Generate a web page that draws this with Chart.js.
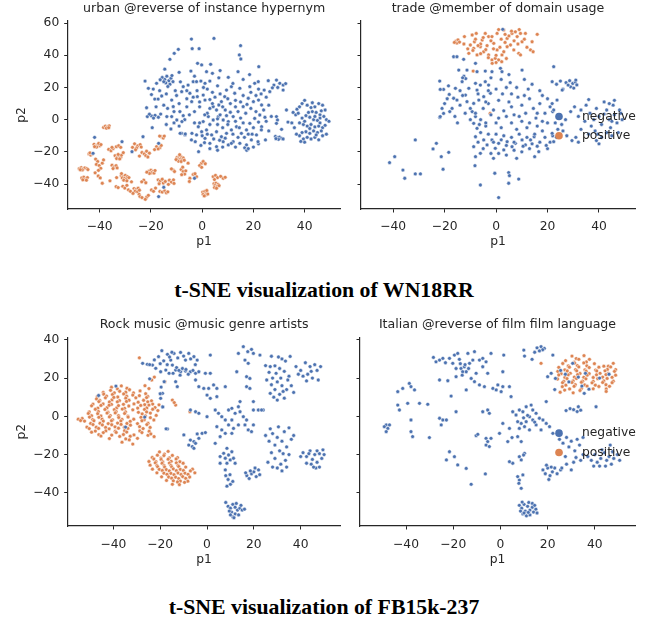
<!DOCTYPE html>
<html>
<head>
<meta charset="utf-8">
<script src="https://cdn.jsdelivr.net/npm/chart.js@4.4.1/dist/chart.umd.min.js"></script>
<style>
  body { margin: 0; background: #fff; }
  #fig { position: relative; width: 659px; height: 621px; overflow: hidden; background: #fff; }
  #fig canvas { position: absolute; }
  .suptitle { position: absolute; left: 0; width: 648px; text-align: center; line-height: 26px;
              font: bold 21.8px "Liberation Serif", "Times New Roman", serif; color: #000; }
</style>
</head>
<body>
<div id="fig">
  <canvas id="c1" width="345" height="250" style="left:0;top:0"></canvas>
  <canvas id="c2" width="314" height="250" style="left:345px;top:0"></canvas>
  <div class="suptitle" style="top:278px">t-SNE visualization of WN18RR</div>
  <canvas id="c3" width="345" height="260" style="left:0;top:310px"></canvas>
  <canvas id="c4" width="314" height="260" style="left:345px;top:310px"></canvas>
  <div class="suptitle" style="top:595px">t-SNE visualization of FB15k-237</div>
</div>
<script>
// labels
const seriesLabels = ['negative', 'positive'];
const panelTitles = [
  'urban @reverse of instance hypernym',
  'trade @member of domain usage',
  'Rock music @music genre artists',
  'Italian @reverse of film film language'
];
const xTicks = [-40, -20, 0, 20, 40];
const wnYTicks = [-40, -20, 0, 20, 40, 60];
const fbYTicks = [-40, -20, 0, 20, 40];

// WN18RR: urban @reverse of instance hypernym
const wnUrbanNeg = [
  [-4.2,50.1],[4.6,50.5],[15,46],[-3.9,44.1],[-1.2,44.1],[-9.3,43.7],[-10.9,41.2],[14.5,40.2],[15.1,37.7],[-12.6,37.5],
  [-14.6,31.4],[22.1,32.9],[-1.8,35],[-0.2,34],[3.3,34.4],[4,28.8],[1.7,29.8],[-4.4,30.2],[-9,29.4],[14,29.8],[10.2,26.3],
  [-15.6,26.2],[-14.6,25],[-13.8,27],[-13,24.2],[-12.2,25.8],[-11.4,23.6],[-14.2,22.8],[-12.6,22],[-15,23.6],[-11.8,27.4],
  [-13.4,20.6],[-16.4,24.8],[-22.3,24],[-21,19.5],[-17.8,22.6],[-19.1,19],[-18.5,12.8],[-17.2,12.8],[-15.8,14.7],[-21.7,7.4],
  [-16.6,18],[-19.8,15.6],[-21.4,1.9],[-19.8,2.3],[-18.4,2.7],[-17.1,1.5],[-16.2,3.5],[-20.6,3.4],[-19,1],[-19.5,-5],
  [-11.9,12.2],[-11.3,8.1],[-11.9,1.9],[-8.7,5],[-7.4,2.5],[-6.8,0],[-8,-8.5],[-6.7,-9.5],[-12.2,-5.8],[-13.8,1.9],
  [-9.9,-0.2],[-7.9,-1.2],[-4,-8.5],[-2.7,-13.7],[-1.4,-19.9],[0.9,-14.3],[-8.6,-8.5],[-6.6,-8.9],
  [-7.4,20.5],[-5.5,21.5],[-3.5,23.6],[-2.2,23.6],[-0.5,24],[1.1,22.6],[-8,17.4],[-4.8,16.4],[-4.1,11.2],[-1.9,14.3],
  [0.4,15.3],[1.1,12.2],[3,7],[4.3,8.1],[5.6,6],[6.5,9.1],[7.5,11.2],[8.8,14.3],[9.5,18.4],[11.4,20.5],[12.7,16.4],
  [14.7,19.5],[18.6,20.5],[20.5,22.6],[21.9,23.6],[24.2,18.4],[26.4,17.4],[25.8,24.2],[29,24.6],[30.3,22.6],[31.6,21.5],
  [31.6,18.4],[28,21.5],[29.5,20],[27.4,19.8],[32.6,22.4],[23,16],
  [18,13.3],[20,11.2],[22,12.2],[23.2,9.1],[16,8.1],[14,5],[12.1,1.9],[10.2,-1.2],[8.2,-0.2],[6.3,1.9],[4.3,-0.2],
  [2.4,1.9],[0.4,-1.2],[-1.5,-4.4],[-0.2,-7.5],[1.7,-6.4],[3.7,-9.5],[5.6,-7.5],[7.5,-10.6],[9.5,-8.5],[11.4,-6.4],
  [13.4,-4.4],[15.3,-8.5],[17.3,-6.4],[18.6,-2.3],[20.5,0.8],[22.5,2.9],[23.2,-4.4],[21.2,-9.5],[19.2,-12.6],[17.3,-15.7],
  [14.7,-14.7],[12.1,-13.7],[10.2,-15.7],[8.2,-13.7],[5.6,-16.8],[3,-14.7],[1.1,-11.6],[-2.2,-9.5],[-4.2,-12.6],[24.7,-12.6],
  [-3,5],[-1,8],[2,4],[5,14],[7,3],[9,6],[11,10],[13,12],[15,1],[17,4],[19,7],[21,5],[6,-3],[8,-5],[10,-3],[12,-9],
  [14,-11],[16,-2],[18,-9],[20,-5],[3,-3],[0,-10],[-3,-2],[-5,3],[-6,8],[-9,10],[-10,15],[-6,13],[-2,18],[2,19],[4,17],
  [7,16],[10,13],[13,8],[16,15],[19,17],[22,19],[25,14],[24,6],[26,9],[25,-1],[27,2],[26,-7],[22,-15],[20,-17],
  [16.6,-17.5],[17.4,-19],[18,-18],[11.4,-14.7],[21.8,-13.7],[23.1,-6.4],[6,-19],[3,-18],[8,-17],[13,-17],[-0.5,-16],
  [4.5,-12],[6.8,-12.8],[9,-11.5],[2,-9],[-1,-2],[1,3],[4,10],[6,0.5],[9.5,2.5],[11,4.6],[13,-1],[14.5,-5],[16.5,-11],
  [19.5,-9],[22,-1.5],[24.5,1.5],[21,15],[17.5,9.5],[15,11],[8,8],[3,12.5],[-1,11],[-3.5,14],[-6,18],[0.5,20],[3,24],
  [6,21],[-11,5],[-13.5,7],[-15,9],[-9,-4],[-11,-2],[-14,-3],[-10.5,18],[-8.5,23.5],[-3,27],[6.5,26],[12,22.5],[16,25],
  [18.5,28],[7,30.5],[-18,8],[-14,16],
  [29,1.9],[29.4,-0.2],[29,-2.3],[32.9,6],[33.5,-1.5],[31,-6],
  [28.6,-10.4],[29.4,-11.2],[30.2,-10.8],[31,-11.6],[29.8,-12.2],[31.6,-12],[28.8,-11.8],
  [36.5,3],[37,6.5],[38,8],[39,10],[40,12],[41,9],[42.5,7.5],[44,8],[45.5,10],[47,9],[43,5],[44.5,4.5],[46,3],[47.5,2],
  [48.5,0],[49.5,-1],[46,1],[45,-0.5],[43.5,0],[42,1.5],[40.5,2.5],[39,1],[38,-2],[39.5,-3],[41,-4],[42.5,-3],[44,-4.5],
  [45.5,-4],[47,-5],[48,-3.5],[46.5,-7],[45,-8],[43.5,-7],[42,-8.5],[40.5,-7.5],[39,-8],[38,-10],[39.5,-12],[41,-11],
  [42.5,-12],[44,-11],[45.5,-12.5],[47,-10],[48.5,-9],[40,-14],[38.5,-13.5],[36,-5],[35,-2],[37.5,4],[41.5,4.5],[44,2],
  [46.5,5.5],[48,6],[43,10.5],[40,-1],[42,-5.5],[44.5,-9.5],[46,-2],[36.8,-9],[35.5,4.5],
  [-42,-11],[-42.6,-20.9],[-31.3,-13.7],[-27.4,-19.9],[-23.1,-10.6],[-17,-14.7],[-3,-36.4],[-17,-47.8],[-15,-42]
];
const wnUrbanPos = [
  [-38.5,-4.8],[-37.8,-4],[-37,-4.5],[-36.3,-3.8],[-37.4,-5.3],[-36.5,-5],
  [-42.2,-15.3],[-41.5,-16.4],[-40.7,-15.6],[-40,-16.2],[-41.2,-17],[-40.4,-14.8],[-39.5,-15.5],[-42,-16.8],
  [-44.2,-21.3],[-43.5,-22],[-42.8,-21.2],[-43.8,-20.6],
  [-48,-30.5],[-47.2,-29.8],[-46.5,-30.6],[-45.8,-30],[-45,-30.4],[-46.8,-31.2],[-44.6,-31],[-47.6,-31.1],
  [-47,-36.2],[-46.2,-35.7],[-45.5,-36.8],[-46.6,-37.4],[-44.8,-36],[-45.2,-37.6],
  [-41.6,-24.5],[-40.8,-26],[-41.3,-27.8],[-40.2,-28.5],[-39.6,-30.2],[-40.5,-31.5],[-39,-27],[-38.5,-25],
  [-40.6,-35],[-39.8,-36.2],[-39,-39.5],[-41.8,-33],
  [-36.5,-18.5],[-35.6,-19.3],[-34.8,-18],[-35.2,-17.2],[-33.5,-16.8],[-32.6,-16.2],[-31.8,-17.2],
  [-34,-22.4],[-33.2,-23.3],[-32.5,-22.6],[-31.8,-23.4],[-33.4,-24.2],[-32.2,-24.4],[-31.5,-22],[-32.8,-21.6],[-30.8,-20.5],
  [-35.2,-28.3],[-34.4,-29.4],[-33.6,-28.6],[-34.8,-30.4],[-33.2,-30],
  [-31.6,-34.8],[-30.8,-35.2],[-30,-34.6],[-29.2,-35.4],[-31.2,-36.2],[-30.3,-36.5],[-29.5,-36.8],[-28.6,-36],
  [-30.6,-37.6],[-29.4,-38],[-31.5,-33.5],
  [-33.6,-41.6],[-32.8,-42.2],[-31,-41.4],[-30.2,-42.5],[-29.4,-40.8],[-28.8,-43.6],[-28,-44.5],
  [-26.6,-42.8],[-25.8,-43.4],[-25,-42.6],[-26.2,-44.5],[-25.2,-44.8],[-24.5,-43.8],[-27,-45.8],[-24.6,-46.4],
  [-24.3,-47.8],[-23.5,-48.4],[-21.7,-48.2],[-22.2,-49.5],[-21,-47],
  [-26.4,-15],[-25.2,-16.3],[-24.2,-15.5],[-23.8,-17],[-25.6,-17.6],[-27.2,-17.2],[-26,-18.7],
  [-23.5,-20.4],[-22.6,-21.3],[-21.7,-19.6],[-22,-22.4],[-20.6,-20.8],[-24.5,-22.6],[-21.2,-23.2],
  [-17.8,-16.8],[-16.5,-17.4],[-17.2,-18.2],[-16,-16],[-18.6,-18.6],
  [-15.9,-10.6],[-16.6,-10.2],[-15.2,-11.4],[-14.8,-10.2],
  [-20.8,-32],[-20,-31.4],[-19.2,-32.1],[-19.8,-33],[-18.8,-33.2],[-20.6,-33.4],[-21.6,-32.6],[-18.4,-31.6],
  [-17.2,-37.4],[-16.4,-38.2],[-15.6,-37],[-15.2,-39.4],[-16.8,-39.8],[-14.4,-38.4],
  [-12.8,-37.6],[-12,-38.8],[-11.2,-37.4],[-11,-39.6],[-13.2,-40.2],
  [-16.5,-44.6],[-15.6,-45],[-14.6,-44.2],[-14,-45.4],[-13.4,-44.8],[-19.8,-43.7],[-19,-44.5],[-18.2,-42.5],
  [-11.3,-31.3],[-12,-30.6],[-10.8,-32.2],
  [-9.8,-23.4],[-9,-22.8],[-8.2,-23.2],[-7.4,-23.8],[-9.4,-24.4],[-8.6,-24.8],[-7.8,-25],[-9.2,-25.8],[-8.2,-26],
  [-7,-25.2],[-10.2,-24.8],[-8.8,-21.8],
  [-8.2,-31],[-7.4,-32.2],[-6.8,-33.8],[-8,-34.2],[-6.4,-31.8],[-7.6,-29.5],
  [-5.5,-27],[-4.8,-36.4],[-3.5,-34],[-2.2,-35.4],[-2.8,-33.6],[-5,-38.4],
  [-0.3,-27.1],[0.4,-26],[1.2,-27.4],[-1,-28.5],[-0.2,-29.6],
  [0.2,-45],[1,-44.6],[1.8,-45.2],[0.4,-46.4],[1.4,-46.8],[2.2,-46.2],[0.8,-47.4],[1.8,-44],
  [4.3,-35.4],[5.2,-34.6],[6,-36],[4.8,-37.2],
  [4.6,-39.8],[5.4,-39.4],[6.2,-40.2],[5,-41],[5.8,-41.6],[6.6,-41],[4.8,-42.2],[5.6,-42.6],
  [8.2,-36.4],[7.2,-35.2],[9,-35.8],
  [-22.8,-37.6],[-22,-39.2],[-23.6,-38.6],[-27.6,-38.6],[-36,-38],[-33.4,-36]
];

// WN18RR: trade @member of domain usage
const wnTradeNeg = [
  [-16.5,39.1],[-15.2,39.1],[-12.6,37.5],[-8,35],[-14.5,30.8],[-11.3,30.8],[-7.4,29.8],[-4.2,30.2],[-1.6,29.8],[1.7,31.9],
  [2.3,29.8],[10.1,30.8],[22.4,32.9],[2.6,56.1],
  [-12.5,27],[-11.8,25.5],[-13,26],[-21.9,24],[-20.4,18.8],[-21.7,18.8],[-18.2,15.7],[-16.5,13.3],[-21,7],[-20.4,3.9],
  [-21.9,1.4],[-17.1,7],[-15.2,12.2],[-13.2,23.6],[-15.8,19.5],[-11.9,15.3],[-11.3,11.2],[-10.6,19.5],[-8,22.6],[-7.4,18.4],
  [-6.1,21.5],[-4.2,23.6],[-2.9,21.5],[-2.2,16.4],[-4.8,14.3],[-6.7,12.2],[-8.7,10.1],[-9.3,5],[-8,1.9],[-8.7,-2.3],
  [-7.4,-5.4],[-8,-10.6],[-8.7,-16.8],[-8,-23],[-8.2,-28.6],[-6.1,-20.9],[-6.1,-40.6],[-4.8,-12.6],[-3.5,-15.7],
  [-1.6,-12.6],[-0.3,-17.8],[1,-14.7],[3,-18.8],[4.3,-13.7],[6.2,-16.8],[7.5,-14.7],[10.1,-12.6],[11.4,-15.7],[13.4,-12.6],
  [14.8,-10.6],[16.6,-19.9],
  [-0.5,-33.3],[4.9,-32.9],[5.2,-34.8],[8.8,-36.9],[4.9,-39.5],[1,-48.4],
  [-41.4,-26.7],[-39.4,-23],[-36.2,-31.3],[-35.5,-36.4],[-31.4,-12.6],[-31.4,-33.7],[-29.4,-33.7],[-24.5,-18.2],
  [-23.2,-14.7],[-21.3,-23],[-20.6,-30.8],[-18.4,-20.3],
  [-20,10],[-18,5],[-16,2],[-14,9],[-13,15],[-18.5,21],[-14,18],[-19,13],[-12,4],[-10,0],[-15,-2],[-21.7,1.9],
  [-3,10],[-1,6],[1,12],[2.5,16],[4,20],[5.5,23],[6,8],[7,3],[8.5,14],[10,9],[11.5,4],[12.5,19],[13,13],[14.5,7],[15.5,1],
  [16,-4],[17,10],[18,15],[19,4],[20,-2],[21,8],[18,-7],[15,-9],[12,-5],[10,-1],[8,-6],[6,-2],[4,2],[2,-5],[0,-2],[-2,3],
  [-4,-4],[-5,7],[-6,0],[-3,-9],[0,-9],[3,-10],[6,-11],[9,-9],[12,-11],[14,-15],[17,-14],[19,-11],[20,-18],[13,-18],
  [10,-20],[7,-19],[4,-22],[1,-21],[-2,-21],[-5,-18],[-7,-14],[-6,-8],[-4,-2],[0,19],[-2,26],[2,25],[5,28],[8,20],[11,25],
  [14,22],[17,18],[20,13],[22,5],[23,-2],[22,-10],[24,-6],[21,-14],[3,5.5],[5,11],[9,2],[13,-2],[16,4],[11,15],[7,-14],
  [-1,-14],[-8,4],[-10,7],[-7,16],[-3,18],[1,1],[4,-16],[8,-24],[15,-23],[18,-1],[6,16],[-4,11],[16,-16.5],[19.5,-16],
  [10.5,-16.5],[2,-12.5],[-6.5,-3],[-1,-24],
  [21.8,23.6],[23.5,22],[25,24],[27.2,23],[28.6,24.2],[29.8,22.5],[30.8,23.4],[31.4,21.6],[29,20.4],[30.2,19.6],[26,19],
  [31,24.6],[28,21.5],[25.7,18.4],[21.8,10],[22.4,6],[23.7,12.2],
  [29,5],[30.5,8],[32,2],[33,6],[34.5,-1],[35,9],[36.5,4],[37,-4],[38,0],[39,7],[40,2],[41,-3],[42,11],[43,6],[44,0],
  [44.5,-5],[45.5,9],[46,3],[47,-2],[48,6],[49,0],[43,-8],[41,-11],[39,-13],[40,-15],[45,-10],[47.5,-8],[38.5,-7],[36,-9],
  [33,-6],[31,-11],[29.5,-13],[27.5,-10],[26,-7],[25.5,-3],[27,0],[42,3.5],[45,-1],[39.5,-9],[48.5,4],[44,10],[46,12],
  [36,12.5],[32,-14],[21.8,-8.5],[22.4,-13.7],[23.5,-11]
];
const wnTradePos = [
  [-15.6,48.8],[-14.8,49.6],[-15.2,47.6],[-14.2,48.2],[-16.2,48],
  [-12.3,51.6],[-10,46.4],[-9.3,52.6],[-7.7,53.6],[-8.4,48.4],[-8.7,44.3],[-10.6,41.2],[-7.4,40.2],[-6.1,45.3],[-5.4,49.5],
  [-4.2,53.6],[-2.9,51.6],[-4.8,42.2],[-2.9,40.2],[-1.6,37.1],[-0.3,38.1],[1,37.1],[2.3,40.2],[0.4,43.3],[-0.9,47.4],
  [-1.6,51.6],[0.4,53.6],[3,55.7],[4.3,50.5],[5.6,46.4],[6.2,53.6],[7.5,54.6],[8.2,51.6],[9.5,53.6],[10.1,48.4],[11.4,53.6],
  [8.8,41.2],[9.5,40.2],[14,48.4],[13.4,43.3],[14.4,42.2],[16,53],[4.3,45.3],[6.9,43.3],[3,42.2],
  [-6,47],[-3.5,46],[-1,44],[1.5,45],[3.5,48],[5,52],[7,49],[8.5,47],[2,50],[-2,49],[-5,51],[-7,46],[-9,43],[-6,41],
  [-3,38.5],[0,40],[4,38],[-11,44],[-12.5,47],[-8,50],[6,55],[9,56],[3.5,53],[1,56],[-4,43.5],[11,50],[12,45],[2.2,36],
  [0,35.5],[-1.5,35],[-8.9,30.2],[-2.3,3.9]
];

// FB15k-237: Rock music @music genre artists
const fbRockNeg = [
  [-27.5,27.7],[-25.5,27.2],[-23.3,26.8],[-19.3,34.3],[-20.7,31.2],[-16.9,32.4],[-15.5,29.4],[-14.1,32.9],[-11.3,33.4],
  [-7.8,32.9],[-5.6,31.2],[-4.2,29.4],[-9.2,29.4],[-14.8,26.8],[-13.4,24.2],[-11.3,23.3],[-9.2,23.7],[-7.1,23.3],[-4.9,22.5],
  [-17.6,24.2],[-16.2,22.5],[-19.8,23.3],[-21.9,25.1],[-12.7,15.5],[-13.4,18.1],[-18.3,18.1],[-19,12],[-19.8,9.4],[-19,5],
  [-3.5,23.3],[-0.7,22.5],[1.4,22.5],[1.4,32],[-4.9,19],[-3.5,15.5],[-1.4,14.6],[0.7,14.6],[2.8,16.4],[4.2,14.6],[1.4,9.4],
  [0,11.1],[4.2,10.3],
  [-13,25.5],[-12,24],[-10.5,25],[-9,24.5],[-8,22],[-6,24],[-14.5,22.5],[-11.5,21.5],[-17,27],[-18.5,29],[-16,31],
  [-12.5,30.5],[-10,31.5],[-7,30],[-5,27],[-20,27.5],[-22.5,29.5],[-24.5,27],[-15,33.5],
  [-7.1,3.3],[-4.9,2.4],[-3.5,1.6],[0,-0.2],[-16.9,-6.6],[-9.9,-9.7],[-7.1,-12.4],[-5.6,-13.2],[-3.5,-11.5],[-6.3,-15.8],
  [-4.9,-14.1],[-7.8,-15],[-2.1,-8.9],[-0.7,-8.5],[-4.2,-9.2],[-5.6,-16.7],
  [3.5,3.3],[4.9,1.6],[6.3,-0.2],[7.8,-1.9],[9.2,3.3],[10.6,4.2],[12,1.6],[13.4,5],[14.1,2.4],[15.5,-0.2],[16.9,-1.9],
  [10.6,-1.9],[9.2,-4.5],[11.3,-6.3],[13.4,-4.5],[16.2,-4.5],[17.6,-7.1],[19,-8],[19.8,-4.5],[4.2,-5.4],[6.3,-7.1],
  [7.8,-8.9],[5.6,-10.6],[3.5,-14.1],[10.6,-8.9],[14.1,7.7],[19.8,3.3],[21.9,3.3],[24,3.3],
  [5.6,-21],[7.1,-19.3],[7.8,-21.9],[9.2,-20.2],[9.9,-22.8],[8.5,-16.7],[11.3,-21.9],[12,-24.5],[10.6,-18.5],[8.5,-24.5],
  [5.6,-24.5],
  [8,-31],[9,-33],[10,-35.5],[11,-34],[8.5,-36.5],[9.8,-30.5],[7.8,-28],
  [8,-45],[9,-47],[10,-48],[11,-46],[12,-47.5],[13,-49],[14,-48],[10.5,-50],[12,-51],[11,-52.5],[13.5,-51.5],[15,-49],
  [9.5,-49.5],[12.5,-45.5],[14.5,-46.5],[11.5,-53],[10,-51.5],[16,-48.5],
  [17,-31],[18,-32.5],[19,-30],[20,-29],[21,-31.5],[22,-28],[20.5,-27],[22.5,-30.5],[18.5,-28.5],[16.5,-29.5],
  [15.5,36.4],[17.4,33.8],[19,35],[19.8,32.9],[17.6,27.7],[16.9,20.7],[18.3,19.8],[16.9,15.5],[18.3,14.6],[13.4,32.9],
  [22.6,32],[7.8,15.5],[16.2,29.4],[12.7,23.3],[19.8,7.7],[23.3,3.3],
  [27.5,31.4],[30.5,31],[32,30],[33.5,28.9],[35.5,31.3],[25,26.5],[27,26],[29,26.4],[31,25],[33,23.5],[35,21],[28,20],
  [30,18],[32,16],[34,14],[29,14],[27,12],[31,11.5],[33,9.5],[30,8.5],[27.5,16.5],[25.5,19],[36,16],[37,12.5],[34.5,19],
  [29.5,22.5],[26.5,23],[31.5,20],[28.5,10],[32.5,13],
  [38,26],[40,24],[42,28],[43,22],[44,26],[45,20],[46,27],[47,24],[48.5,26],[41,21],[39,22],[47.5,19],[44.5,23.5],[42.5,18.5],
  [25,-10],[26.5,-13],[28,-9],[29,-15],[30,-11],[31,-18],[32,-13],[33,-8],[34,-16],[35,-20],[33.5,-23],[31.5,-25],[30,-27],
  [32,-28.5],[34,-26.5],[29,-22],[27.5,-19],[26,-24],[28,-26.5],[36,-12],[35,-6],[37,-10],[30.5,-5.5],[32.5,-19.5],[27,-6.5],
  [41,-19],[42.5,-21],[44,-18],[45,-22.5],[46,-20],[47,-24],[48,-19.5],[49,-22],[50,-20],[46.5,-27],[44.5,-25],[42.5,-24.5],
  [48,-26.5],[49.5,-17.5],[43.5,-19.5],[47,-18],[45.5,-26.5],[40,-21],
  [-38.9,15.8],[-46.3,10.9],[-34.8,-5.6],[-26.6,-0.4],[-24.5,19.6],[-18.9,4.9],[-17.5,-6.5],[-20,11.8],[-19.6,15.3]
];
const fbRockPos = [
  [-40.8,15.2],[-38.3,14.4],[-36.6,15.9],[-34.2,14.7],
  [-44.3,12.5],[-41.2,13.6],[-39.6,12.3],[-37.3,13.1],[-34.7,12.6],[-33.1,13.9],[-31.4,12.2],[-28.6,13.3],
  [-46.8,10.4],[-44.1,11.6],[-42.9,10.6],[-40.4,11.4],[-38.1,10.1],[-35.6,11.7],[-34.3,10.5],[-31.7,11.1],[-28.9,10.8],
  [-26.2,11.8],[-25.3,10.4],
  [-47.2,9.1],[-45.8,8.3],[-43.4,9.7],[-40.6,8.6],[-39.8,9.9],[-37.4,8.2],[-34.7,9.5],[-33.3,8.4],[-30.4,9.7],[-27.1,8.4],
  [-25.8,9.8],[-23.7,8.1],
  [-48.7,6.4],[-46.2,7.7],[-44.4,6.5],[-41.7,7.5],[-40.8,6.2],[-38.3,7.6],[-35.7,6.3],[-34.4,7.8],[-31.2,6.5],[-29.4,7.4],
  [-26.6,6.1],[-25.3,7.6],[-23.2,6.4],
  [-49.3,5.5],[-46.6,4.3],[-45.3,5.7],[-42.7,4.5],[-41.8,5.8],[-38.6,4.4],[-37.8,5.6],[-35.2,4.2],[-33.4,5.4],[-29.6,4.3],
  [-28.3,5.7],[-25.7,4.4],[-24.8,5.9],[-22.2,4.6],
  [-50.3,2.3],[-47.7,3.7],[-46.4,2.5],[-43.6,3.6],[-42.3,2.2],[-39.6,3.5],[-38.8,2.4],[-36.2,3.8],[-34.8,2.3],[-31.7,3.4],
  [-29.3,2.1],[-26.7,3.6],[-25.8,2.3],[-23.2,3.7],
  [-50.7,1.5],[-49.3,0.3],[-46.7,1.4],[-45.3,0.2],[-42.7,1.7],[-41.3,0.4],[-39.2,1.8],[-37.8,0.3],[-35.2,1.5],[-33.8,0.1],
  [-27.7,1.3],[-26.3,0.2],[-24.2,1.7],[-21.7,0.5],
  [-53.3,-1.1],[-50.2,-0.4],[-48.8,-1.7],[-46.2,-0.5],[-44.8,-1.5],[-41.7,-0.3],[-40.3,-1.8],[-37.7,-0.6],[-36.3,-1.6],
  [-33.7,-0.4],[-31.3,-1.5],[-28.2,-0.5],[-26.8,-1.8],[-24.2,-0.7],[-22.7,-1.9],
  [-52.3,-2.5],[-49.7,-3.7],[-48.3,-2.3],[-45.7,-3.6],[-44.3,-2.5],[-42.2,-3.8],[-40.8,-2.3],[-38.2,-3.5],[-36.8,-2.4],
  [-34.2,-3.7],[-32.8,-2.6],[-29.7,-3.8],[-27.8,-2.3],[-25.2,-3.6],
  [-51.3,-5.6],[-48.7,-4.3],[-47.3,-5.7],[-44.7,-4.5],[-43.3,-5.8],[-40.7,-4.4],[-39.3,-5.5],[-36.7,-4.2],[-35.3,-5.7],
  [-32.7,-4.6],[-28.8,-5.4],[-25.7,-4.3],[-24.3,-5.8],
  [-50.3,-6.4],[-47.7,-7.7],[-46.3,-6.3],[-43.2,-7.6],[-41.8,-6.5],[-39.2,-7.8],[-37.8,-6.2],[-35.2,-7.5],[-33.8,-6.3],
  [-28.7,-7.6],[-27.3,-6.4],[-24.7,-7.8],
  [-49.3,-8.3],[-46.2,-9.6],[-44.3,-8.5],[-40.7,-9.8],[-38.8,-8.4],[-35.7,-9.5],[-34.3,-8.2],[-31.2,-9.7],[-27.8,-8.5],
  [-25.2,-9.9],
  [-45.3,-10.3],[-41.7,-11.6],[-37.3,-10.5],[-34.7,-11.8],[-32.8,-10.4],[-29.7,-11.5],[-36.3,-13.5],[-33.2,-12.3],[-31.7,-14.5],
  [-55,-1.5],[-54,-2.2],[-24,-9.2],[-22.6,-10.6],[-28.9,30.6],[-23.6,19],[-22.5,20.5],[-18,18.1],[-14.8,8.5],[-13.4,5.9],
  [-14,7.2],[-7.3,2.4],[-26.5,16],[-24.8,14.5],[-20.5,6],[-21,3],
  [-20.3,-18.6],[-18.2,-19.7],[-16.6,-18.3],
  [-23.4,-21.5],[-21.2,-20.3],[-19.7,-21.8],[-18.4,-20.5],[-16.1,-21.7],[-14.8,-20.4],[-12.6,-21.6],
  [-24.8,-23.6],[-22.7,-22.3],[-21.8,-23.7],[-19.6,-22.5],[-18.9,-23.8],[-16.6,-22.4],[-15.3,-23.5],[-13.2,-22.3],[-11.6,-23.7],
  [-24.3,-25.5],[-22.1,-24.3],[-21.4,-25.7],[-19.2,-24.5],[-18.3,-25.8],[-16.1,-24.4],[-15.4,-25.6],[-13.1,-24.3],
  [-12.4,-25.7],[-10.2,-24.5],
  [-23.3,-27.6],[-21.1,-26.3],[-20.4,-27.7],[-18.1,-26.5],[-17.4,-27.8],[-15.1,-26.4],[-14.4,-27.5],[-12.1,-26.2],
  [-11.4,-27.7],[-9.1,-26.5],[-6.2,-27.6],
  [-21.4,-29.5],[-19.1,-28.3],[-18.4,-29.7],[-16.1,-28.5],[-15.4,-29.8],[-13.1,-28.4],[-12.4,-29.6],[-10.1,-28.3],
  [-9.4,-29.7],[-7.1,-28.5],[-5.2,-29.5],
  [-19.4,-31.6],[-17.1,-30.3],[-16.4,-31.7],[-14.1,-30.5],[-13.4,-31.8],[-11.1,-30.4],[-10.4,-31.5],[-8.1,-30.3],[-7.4,-31.7],
  [-17.3,-33.5],[-15.1,-32.3],[-14.4,-33.7],[-12.1,-32.5],[-11.4,-33.8],[-9.1,-32.4],[-8.2,-33.9],
  [-14.8,-35.5],[-12.6,-34.3],[-11.8,-35.7],[-9.6,-34.5]
];

// FB15k-237: Italian @reverse of film film language
const fbItalianNeg = [
  [-28.4,30.8],[-27.3,28.5],[-25.8,29.4],[-24.4,30.3],[-23.3,28],[-21.6,30.3],[-19.5,32],[-18.1,32.9],[-17.4,29.8],
  [-20.2,27.7],[-18.8,25],[-16.7,25],[-15.3,25.9],[-14.5,23.3],[-13.1,27.7],[-11.7,29.4],[-11,33.8],[-13.8,32.9],[-16,23.3],
  [-25.8,19],[-22.3,18.6],[-18.8,20.7],[-14.5,13.8],[-10.3,22.5],[-8.9,29.4],[-7.5,30.3],[-6.1,28.5],[-4,32.9],[-7.5,25.9],
  [-5.4,22.5],[-8.9,16.4],[-6.8,15.5],[-3.2,14.6],[-1.8,13.8],[-1.1,16.4],[1,15.5],[0.3,12.9],[1,23.3],[1.4,32],[4.5,10.3],
  [3.8,15.5],[-12.4,19.8],[-11,18.1],[-15,27],[-17,27.5],[-13.5,25],[-16.2,21.5],
  [-48.4,-4.5],[-49.2,-5.4],[-47.7,-6.3],[-47,-4.5],[-48.4,-8],[-43.5,12.9],[-43.5,5.9],[-42.8,3.3],[-41.4,14.6],
  [-38.6,17.2],[-37.9,15.5],[-36.4,13.8],[-39.3,6.8],[-34.3,6.8],[-30.8,6.3],[-37.9,-1.9],[-37.9,-8],[-37.2,-10.6],
  [-30.1,-11.1],[-25.8,-1],[-24.4,-1.9],[-25.1,-4.5],[-22.9,-1.9],[-21.6,-18.5],[-19.5,-21.1],[-22.9,-22.8],[-18.1,-25.4],
  [-14.5,-27.2],[-12.4,-35.5],[-6.4,-30.1],[-20.9,10.6],[-18.8,2.4],
  [-7.5,2.4],[-5.4,3.3],[-4.7,1.6],[-10.3,-10.1],[-9.6,-9.4],[-6.1,-11.5],[-5.4,-13.2],[-4,-11.5],[-6.1,-15],[-4.7,-15.8],
  [-0.4,-8.9],[1,-3.7],[3.1,-13.2],[3.8,-6.3],[4.9,-11.1],[5.2,-24.5],[3.8,-23.7],
  [8,3.3],[9.5,2.4],[6.6,0.7],[10.9,5],[13,5.9],[13.7,3.3],[15.1,1.6],[12.3,-0.2],[10.9,-2.8],[8.8,-3.7],[7.3,-2.8],
  [13.7,-1.9],[16.5,-1],[18,-1.9],[19.4,-3.7],[20.8,-5.4],[15.1,-4.5],[12.3,-7.1],[10.2,-5.4],[8,-6.3],[19.4,7.7],
  [17.2,-7.1],[22.2,-8.9],[5.2,2.4],[7.3,-10.6],[8.8,-13.2],[10.2,-19.3],[8,-21.1],[8.8,-22.8],[7.3,-31.5],[8,-33.3],
  [9.5,-30.6],[7.8,-35],[8.8,-37.6],[9.8,-20.2],[11.5,0.5],[9.8,-0.8],[14.5,-3],
  [8,-46.5],[9,-48],[10,-46],[10.5,-49.5],[11.5,-47],[12,-45],[12.5,-49],[13.5,-47.5],[14,-50],[15,-48.5],[9.5,-51],
  [11,-52],[12.5,-51.5],[13.5,-45.5],[15.5,-50.5],[8.5,-49.5],[10,-50.5],[11.8,-50.2],[14.5,-46.5],[9.2,-44.8],
  [18,-28],[19,-30],[20,-27],[21,-31],[22,-29],[20.5,-33],[19.5,-25.5],[23,-27],[24,-30],[25.5,-28],[21.5,-26.5],
  [25,-12],[26.5,-14],[28,-11],[29,-16],[30,-13],[31.5,-18],[32.5,-12],[33.5,-15],[35,-20],[34,-23],[31,-24],[28,-25],
  [26,-27],[30,-28],[27.5,-21],[32,-21.5],[35,-11],[25.5,-19],
  [37,-21],[38.5,-23],[40,-20],[41,-24],[42.5,-22],[44,-19],[45,-23],[46,-21],[47,-25],[48,-22],[49.5,-20],[50.5,-23],
  [44.5,-26],[47.5,-18.5],[42,-26],[43,-17.5],[39.5,-26],[46.5,-15],
  [27.8,3],[29.5,4],[31,3.5],[32.5,2.5],[34,3.2],[33,5],[40.5,5],
  [22.2,32],[17.2,36.4],[18.6,35.5],[17.9,34.8],[10.2,31.5],[13.4,29.8],[9.9,34.6],[15.5,35.8],[16.5,34.2],[14.5,33.5],
  [21.5,22.5],[23.3,19.8],[20,20.7],[25.5,24],[27.5,22],[30.6,27.7],[33,20.5],[34.5,15.8],[37.5,14.2],[42,20],[36,22.5],
  [29,18],[46,22],[23,14],[35.5,12]
];
const fbItalianPos = [
  [30.3,31.5],[32.1,30.2],[35.4,31.7],
  [27.6,29.1],[31.3,28.3],[33.2,29.8],[36.4,28.4],[37.7,29.8],
  [17.2,27.7],[26.4,27.6],[28.7,26.3],[31.4,27.8],[32.6,26.5],[35.3,27.9],[36.6,26.4],[39.8,27.5],[45.7,26.2],[47.8,27.7],
  [24.7,25.6],[27.3,24.3],[29.2,25.7],[31.8,24.4],[33.2,25.8],[35.8,24.3],[37.6,25.5],[40.3,24.2],[41.7,25.7],[43.8,26.2],
  [45.3,24.5],[46.7,25.8],[48.8,24.4],
  [24.3,23.5],[25.7,22.3],[28.3,23.7],[29.6,22.5],[32.3,23.8],[33.7,22.4],[36.3,23.6],[37.6,22.3],[40.8,23.7],[42.2,22.5],
  [44.3,23.8],[45.7,22.4],[48.3,23.5],
  [24.7,21.6],[27.3,20.3],[28.7,21.7],[31.3,20.5],[32.7,21.8],[35.3,20.4],[36.7,21.5],[39.3,20.3],[40.7,21.7],[43.3,20.5],
  [44.7,21.8],[47.3,20.4],[48.8,21.5],
  [24.2,19.5],[26.8,18.3],[28.2,19.7],[30.8,18.5],[32.2,19.8],[34.8,18.4],[36.2,19.6],[39.3,18.3],[41.2,19.7],[43.8,18.5],
  [45.2,19.8],[47.8,18.4],
  [26.3,17.6],[27.7,16.3],[30.3,17.7],[31.7,16.5],[34.3,17.8],[35.7,16.4],[38.8,17.5],[40.2,16.3],[43.3,17.7],[44.7,16.5],
  [47.3,17.6],
  [26.2,15.5],[29.3,14.3],[31.2,15.7],[34.3,14.5],[36.7,15.8],[39.3,14.4],[41.7,15.6],[44.8,14.3],[46.2,15.7],
  [25.3,12.6],[27.2,13.7],[30.8,12.3],[33.7,13.5],[44.8,13]
];

const BLUE = '#4c72b0';
const ORANGE = '#dd8452';
const INK = '#262626';
const FONT = 'DejaVu Sans';
const FS = 12.3;
const TITLE_FS = 12.6;

const toXY = arr => arr.map(([x, y]) => ({x, y}));
const minus = v => String(v).replace('-', '\u2212');

// draws the legend inside the plot, right of centre, without a frame
const innerLegend = {
  id: 'innerLegend',
  afterDraw(chart, args, opts) {
    if (!opts.show) return;
    const {ctx, chartArea: a} = chart;
    const y0 = a.top + 0.508 * (a.bottom - a.top);
    ctx.save();
    chart.data.datasets.forEach((ds, i) => {
      const y = y0 + i * 19.3;
      ctx.beginPath();
      ctx.arc(a.right - 76, y, 3.8, 0, Math.PI * 2);
      ctx.fillStyle = ds.backgroundColor;
      ctx.fill();
      ctx.fillStyle = INK;
      ctx.font = FS + 'px "' + FONT + '"';
      ctx.textBaseline = 'middle';
      ctx.textAlign = 'left';
      ctx.fillText(ds.label, a.right - 53, y);
    });
    ctx.restore();
  }
};

function makePanel(p) {
  const font = {family: FONT, size: FS, lineHeight: 1.2};
  new Chart(document.getElementById(p.id), {
    type: 'scatter',
    data: {
      datasets: [
        {label: seriesLabels[0], data: toXY(p.neg), backgroundColor: BLUE},
        {label: seriesLabels[1], data: toXY(p.pos), backgroundColor: ORANGE}
      ]
    },
    options: {
      responsive: false,
      animation: false,
      events: [],
      layout: {padding: {left: 0, right: p.padR, top: 0, bottom: 0}},
      elements: {point: {radius: 1.9, borderWidth: 0.5, borderColor: '#ffffff'}},
      plugins: {
        legend: {display: false},
        tooltip: {enabled: false},
        title: {display: true, text: p.title, fullSize: false, color: INK,
                font: {family: FONT, size: TITLE_FS, lineHeight: 1.2, weight: 'normal'},
                padding: {top: p.tTop, bottom: p.tBot}},
        innerLegend: {show: p.legend}
      },
      scales: {
        x: {
          type: 'linear', min: p.xMin, max: p.xMax,
          afterBuildTicks: s => { s.ticks = xTicks.map(v => ({value: v})); },
          afterFit: s => { s.height = p.xH; },
          ticks: {color: INK, font, padding: p.xtkPad, maxRotation: 0, callback: minus},
          grid: {drawOnChartArea: false, drawTicks: true, tickLength: 3.5, color: INK, lineWidth: 1},
          border: {display: true, color: INK, width: 1.2},
          title: {display: true, text: 'p1', color: INK, font, padding: {top: 0, bottom: p.xtPad}}
        },
        y: {
          type: 'linear', min: p.yMin, max: p.yMax,
          afterBuildTicks: s => { s.ticks = p.yTicks.map(v => ({value: v})); },
          afterFit: s => { s.width = p.yW; },
          ticks: {display: p.yLabels, color: INK, font, padding: 5, callback: minus},
          grid: {drawOnChartArea: false, drawTicks: true, tickLength: 3.5, color: INK, lineWidth: 1},
          border: {display: true, color: INK, width: 1.2},
          title: {display: p.yLabels, text: 'p2', color: INK, font, padding: {top: 14.3, bottom: 0}}
        }
      }
    },
    plugins: [innerLegend]
  });
}

const topRow = {xMin: -52.5, xMax: 54, yMin: -55.5, yMax: 61.3, yTicks: wnYTicks,
                tTop: 0.74, tBot: 5.14, xH: 41, xtPad: 0.8, xtkPad: 7};
const botRow = {xMin: -59.5, xMax: 57, yMin: -57.3, yMax: 41.3, yTicks: fbYTicks,
                tTop: 7.44, tBot: 4.74, xH: 44, xtPad: 2.4, xtkPad: 7.5};

makePanel({...topRow, id: 'c1', title: panelTitles[0], neg: wnUrbanNeg, pos: wnUrbanPos, yW: 67.7, padR: 4, yLabels: true, legend: false});
makePanel({...topRow, id: 'c2', title: panelTitles[1], neg: wnTradeNeg, pos: wnTradePos, yW: 16, padR: 24, yLabels: false, legend: true});
makePanel({...botRow, id: 'c3', title: panelTitles[2], neg: fbRockNeg, pos: fbRockPos, yW: 67.7, padR: 2.3, yLabels: true, legend: false});
makePanel({...botRow, id: 'c4', title: panelTitles[3], neg: fbItalianNeg, pos: fbItalianPos, yW: 15, padR: 24, yLabels: false, legend: true});
</script>
</body>
</html>
